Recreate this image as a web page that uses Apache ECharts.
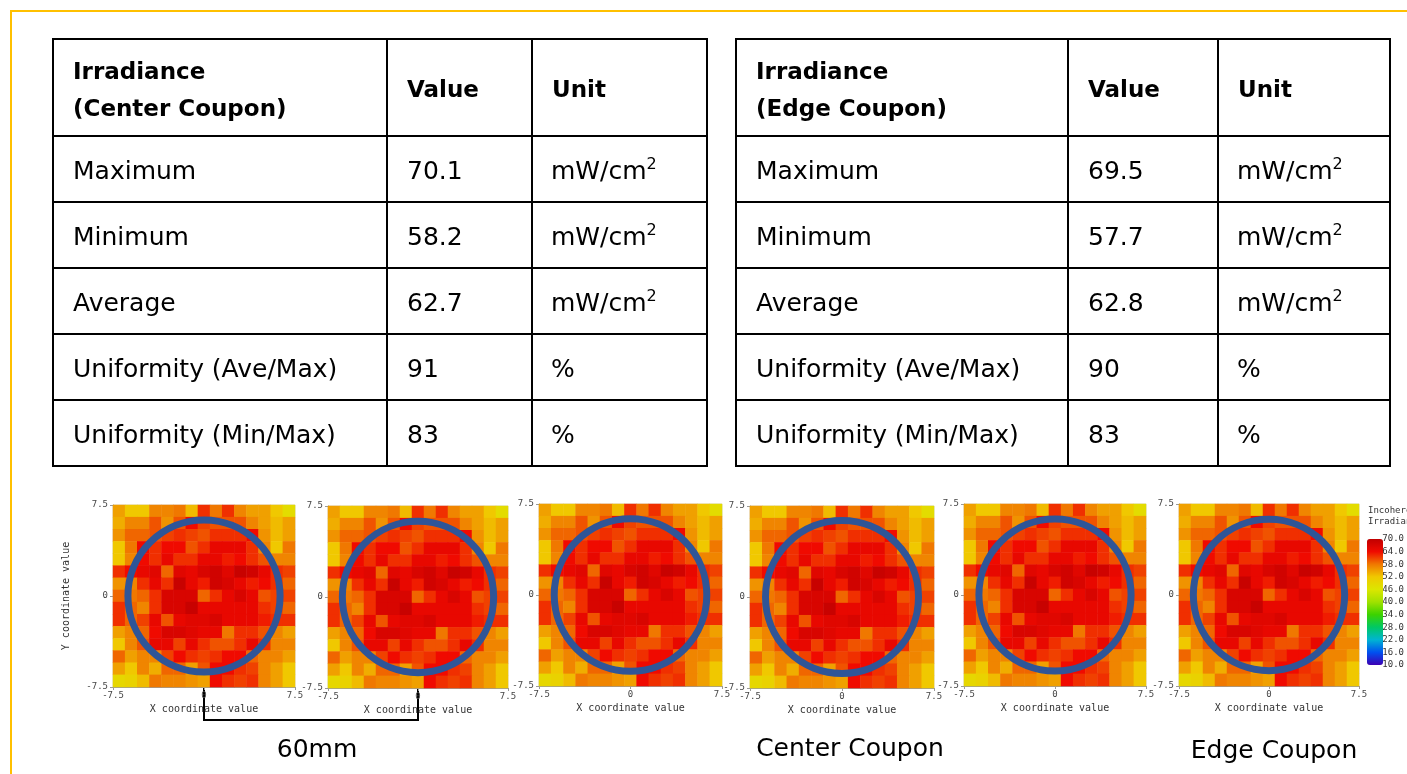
<!DOCTYPE html>
<html>
<head>
<meta charset="utf-8">
<script src="https://cdn.jsdelivr.net/npm/echarts@6/dist/echarts.min.js"></script>
<style>
  html, body { margin: 0; padding: 0; background: #ffffff; }
  #main { width: 1407px; height: 774px; }
</style>
</head>
<body>
<div id="main"></div>
<script>
// ---- Summary tables ----
const centerTitle = ['Irradiance', '(Center Coupon)'];
const edgeTitle = ['Irradiance', '(Edge Coupon)'];
const headerCols = ['Value', 'Unit'];
const metricNames = ['Maximum', 'Minimum', 'Average', 'Uniformity (Ave/Max)', 'Uniformity (Min/Max)'];
const centerValues = ['70.1', '58.2', '62.7', '91', '83'];
const edgeValues = ['69.5', '57.7', '62.8', '90', '83'];
const metricUnits = ['mW/cm2', 'mW/cm2', 'mW/cm2', '%', '%'];

// ---- Incoherent irradiance map (mW/cm2), 15 x 15 cells, rows from y = 7.5 down to y = -7.5 ----
const irradianceRows = [
  [55, 52, 52, 57, 57, 58, 53, 62, 58, 62, 57, 55, 55, 52, 48],
  [54, 57, 57, 60, 56, 60, 64, 61, 60, 60, 60, 57, 55, 53, 55],
  [56, 59, 59, 60, 61, 62, 61, 60, 62, 62, 62, 64, 56, 53, 55],
  [52, 58, 64, 62, 64, 64, 60, 62, 65, 65, 65, 62, 57, 52, 58],
  [52, 57, 64, 62, 65, 62, 62, 65, 65, 63, 64, 62, 60, 57, 57],
  [62, 64, 65, 66, 59, 66, 65, 67, 68, 66, 69, 68, 65, 62, 61],
  [56, 57, 62, 65, 62, 69, 65, 63, 68, 67, 65, 63, 64, 62, 59],
  [59, 58, 59, 62, 67, 67, 67, 59, 62, 65, 67, 65, 60, 61, 61],
  [62, 59, 57, 62, 67, 67, 69, 65, 65, 65, 65, 65, 62, 61, 59],
  [62, 59, 61, 65, 60, 65, 66, 66, 67, 65, 65, 65, 63, 62, 62],
  [55, 57, 59, 64, 67, 67, 66, 65, 65, 58, 62, 62, 60, 57, 55],
  [52, 57, 60, 65, 65, 61, 65, 62, 60, 60, 62, 65, 62, 57, 57],
  [59, 55, 57, 57, 61, 64, 62, 61, 62, 64, 64, 59, 57, 57, 55],
  [55, 52, 57, 54, 59, 59, 55, 60, 64, 64, 62, 61, 57, 55, 52],
  [49, 50, 53, 58, 57, 57, 56, 55, 64, 62, 61, 62, 57, 55, 52]
];
const axisTicks = [-7.5, 0, 7.5];
const couponRadius = 6.27;            // coupon outline, same units as the axes
const legendRange = [10, 70];
const legendStep = 6;
const legendTitle = ['Incoherent', 'Irradiance'];
const xAxisTitle = 'X coordinate value';
const yAxisTitle = 'Y coordinate value';
const captions = ['60mm', 'Center Coupon', 'Edge Coupon'];

// ---- Styling / layout ----
const TEXT_FONT = '"DejaVu Sans", sans-serif';
const MONO_FONT = '"DejaVu Sans Mono", monospace';
const rainbow = ['#3c00b4', '#0050f0', '#00b4d2', '#00c864', '#3cd200', '#a0e100',
                 '#dce600', '#f0c800', '#f07800', '#f00a00', '#c00000'];
const panels = [
  { left: 113, top: 505, width: 182, height: 182 },
  { left: 328, top: 506, width: 180, height: 182 },
  { left: 539, top: 504, width: 183, height: 182 },
  { left: 750, top: 506, width: 184, height: 182 },
  { left: 964, top: 504, width: 182, height: 182 },
  { left: 1179, top: 504, width: 180, height: 182 }
];
const legendBox = { left: 1367, top: 539, width: 16, height: 126 };
const rowEdges = [39, 136, 202, 268, 334, 400, 466];
const leftTableCols = [53, 387, 532, 707];
const rightTableCols = [736, 1068, 1218, 1390];

const chart = echarts.init(document.getElementById('main'), null, { renderer: 'canvas' });

const nCols = irradianceRows[0].length;
const cellIndex = Array.from({ length: nCols }, (_, i) => i);
const heatData = [];
irradianceRows.forEach((row, r) => row.forEach((v, c) => heatData.push([c, r, v])));

const grids = [], xAxes = [], yAxes = [], series = [], heatSeriesIdx = [];
const tickLabelStyle = { fontFamily: MONO_FONT, fontSize: 9, color: '#444' };
panels.forEach((p, i) => {
  grids.push({ left: p.left, top: p.top, width: p.width, height: p.height,
               show: true, borderColor: '#d6d6d6', borderWidth: 1, backgroundColor: 'transparent' });
  // cell axes for the heatmap
  xAxes.push({ type: 'category', gridIndex: i, data: cellIndex, show: false });
  yAxes.push({ type: 'category', gridIndex: i, data: cellIndex, show: false, inverse: true });
  // coordinate axes (-7.5 .. 7.5)
  xAxes.push({
    type: 'value', gridIndex: i, position: 'bottom',
    min: axisTicks[0], max: axisTicks[axisTicks.length - 1], interval: axisTicks[1] - axisTicks[0],
    name: xAxisTitle, nameLocation: 'middle', nameGap: 17,
    nameTextStyle: { fontFamily: MONO_FONT, fontSize: 10, color: '#333' },
    axisLine: { show: true, lineStyle: { color: '#9a9a9a', width: 1 } },
    axisTick: { show: true, length: 3, lineStyle: { color: '#9a9a9a' } },
    axisLabel: Object.assign({ margin: 4, showMinLabel: true, showMaxLabel: true }, tickLabelStyle),
    splitLine: { show: false }
  });
  yAxes.push({
    type: 'value', gridIndex: i, position: 'left',
    min: axisTicks[0], max: axisTicks[axisTicks.length - 1], interval: axisTicks[1] - axisTicks[0],
    name: i === 0 ? yAxisTitle : '', nameLocation: 'middle', nameGap: 42,
    nameTextStyle: { fontFamily: MONO_FONT, fontSize: 10, color: '#333' },
    axisLine: { show: true, lineStyle: { color: '#9a9a9a', width: 1 } },
    axisTick: { show: true, length: 3, lineStyle: { color: '#9a9a9a' } },
    axisLabel: Object.assign({ margin: 5, showMinLabel: true, showMaxLabel: true }, tickLabelStyle),
    splitLine: { show: false }
  });
  heatSeriesIdx.push(series.length);
  series.push({
    type: 'heatmap', xAxisIndex: 2 * i, yAxisIndex: 2 * i,
    data: heatData, silent: true, progressive: 0,
    itemStyle: { borderWidth: 0 }
  });
  series.push({
    type: 'custom', xAxisIndex: 2 * i + 1, yAxisIndex: 2 * i + 1,
    silent: true, z: 5, clip: false,
    data: [[0, 0, couponRadius]],
    renderItem: function (params, api) {
      const c = api.coord([api.value(0), api.value(1)]);
      const s = api.size([api.value(2), api.value(2)]);
      return {
        type: 'circle',
        shape: { cx: c[0], cy: c[1], r: (s[0] + s[1]) / 2 },
        style: { fill: 'none', stroke: '#2f5597', lineWidth: 7 }
      };
    }
  });
});

// colour-scale tick labels next to the visual map bar
const legendGridIdx = grids.length;
grids.push({ left: legendBox.left, top: legendBox.top, width: legendBox.width, height: legendBox.height, show: false });
xAxes.push({ type: 'value', gridIndex: legendGridIdx, show: false, min: 0, max: 1 });
yAxes.push({
  type: 'value', gridIndex: legendGridIdx, position: 'right',
  min: legendRange[0], max: legendRange[1], interval: legendStep,
  axisLine: { show: false }, axisTick: { show: false }, splitLine: { show: false },
  axisLabel: Object.assign({ margin: 2, formatter: v => v.toFixed(1) }, tickLabelStyle, { color: '#333' })
});

// ---- Tables ----
function tableGraphics(cols, title, values) {
  const els = [];
  for (let r = 0; r < rowEdges.length - 1; r++) {
    for (let c = 0; c < cols.length - 1; c++) {
      els.push({
        type: 'rect',
        shape: { x: cols[c], y: rowEdges[r], width: cols[c + 1] - cols[c], height: rowEdges[r + 1] - rowEdges[r] },
        style: { fill: '#ffffff', stroke: '#000000', lineWidth: 2 }
      });
    }
  }
  const pad = 20;
  const headMid = (rowEdges[0] + rowEdges[1]) / 2 + 4;
  const bold = 'bold 23px ' + TEXT_FONT;
  const normal = '25px ' + TEXT_FONT;
  els.push({ type: 'text', x: cols[0] + pad, y: headMid,
    style: { text: title.join('\n'), font: bold, fill: '#000', verticalAlign: 'middle', lineHeight: 37 } });
  headerCols.forEach((h, k) => els.push({ type: 'text', x: cols[k + 1] + pad, y: headMid,
    style: { text: h, font: bold, fill: '#000', verticalAlign: 'middle' } }));
  metricNames.forEach((name, k) => {
    const y = (rowEdges[k + 1] + rowEdges[k + 2]) / 2 + 3;
    els.push({ type: 'text', x: cols[0] + pad, y: y,
      style: { text: name, font: normal, fill: '#000', verticalAlign: 'middle' } });
    els.push({ type: 'text', x: cols[1] + pad, y: y,
      style: { text: values[k], font: normal, fill: '#000', verticalAlign: 'middle' } });
    const unit = metricUnits[k];
    const m = unit.match(/^(.*?)(\d)$/);
    els.push({ type: 'text', x: cols[2] + pad - 1, y: y,
      style: m ? {
        text: '{a|' + m[1] + '}{s|' + m[2] + '}', verticalAlign: 'middle',
        rich: {
          a: { fontFamily: TEXT_FONT, fontSize: 25, color: '#000', lineHeight: 30 },
          s: { fontFamily: TEXT_FONT, fontSize: 16, color: '#000', lineHeight: 16, verticalAlign: 'top' }
        }
      } : { text: unit, font: normal, fill: '#000', verticalAlign: 'middle' } });
  });
  return els;
}

const baseGraphics = [
  { type: 'polyline', shape: { points: [[11, 774], [11, 11], [1407, 11]] },
    style: { stroke: '#ffc000', lineWidth: 2, fill: null } }
].concat(tableGraphics(leftTableCols, centerTitle, centerValues))
 .concat(tableGraphics(rightTableCols, edgeTitle, edgeValues))
 .concat(legendTitle.map((t, k) => ({
   type: 'text', x: 1368, y: 506 + k * 11,
   style: { text: t, font: '9px ' + MONO_FONT, fill: '#333' } })));

chart.setOption({
  animation: false,
  backgroundColor: '#ffffff',
  grid: grids,
  xAxis: xAxes,
  yAxis: yAxes,
  visualMap: {
    type: 'continuous', min: legendRange[0], max: legendRange[1],
    seriesIndex: heatSeriesIdx, calculable: false, hoverLink: false,
    left: legendBox.left, top: legendBox.top, itemWidth: legendBox.width, itemHeight: legendBox.height,
    padding: 0, text: null, orient: 'vertical',
    inRange: { color: rainbow }
  },
  series: series,
  graphic: { elements: baseGraphics }
});

// Distance bracket between the two left coupons and captions under the maps
const p1 = chart.convertToPixel({ xAxisIndex: 1, yAxisIndex: 1 }, [0, -couponRadius]);
const p2 = chart.convertToPixel({ xAxisIndex: 3, yAxisIndex: 3 }, [0, -couponRadius]);
const bracketY = 720;
const c4 = chart.convertToPixel({ xAxisIndex: 7 }, 0);
const c6 = chart.convertToPixel({ xAxisIndex: 11 }, 0);
const captionFont = '25px ' + TEXT_FONT;
chart.setOption({
  graphic: { elements: baseGraphics.concat([
    { type: 'polyline', shape: { points: [[p1[0], p1[1]], [p1[0], bracketY], [p2[0], bracketY], [p2[0], p2[1]]] },
      style: { stroke: '#000', lineWidth: 2, fill: null } },
    { type: 'text', x: (p1[0] + p2[0]) / 2 + 6, y: 750,
      style: { text: captions[0], font: captionFont, fill: '#000', align: 'center', verticalAlign: 'middle' } },
    { type: 'text', x: c4 + 8, y: 749,
      style: { text: captions[1], font: captionFont, fill: '#000', align: 'center', verticalAlign: 'middle' } },
    { type: 'text', x: c6 + 5, y: 751,
      style: { text: captions[2], font: captionFont, fill: '#000', align: 'center', verticalAlign: 'middle' } }
  ]) }
});
</script>
</body>
</html>
